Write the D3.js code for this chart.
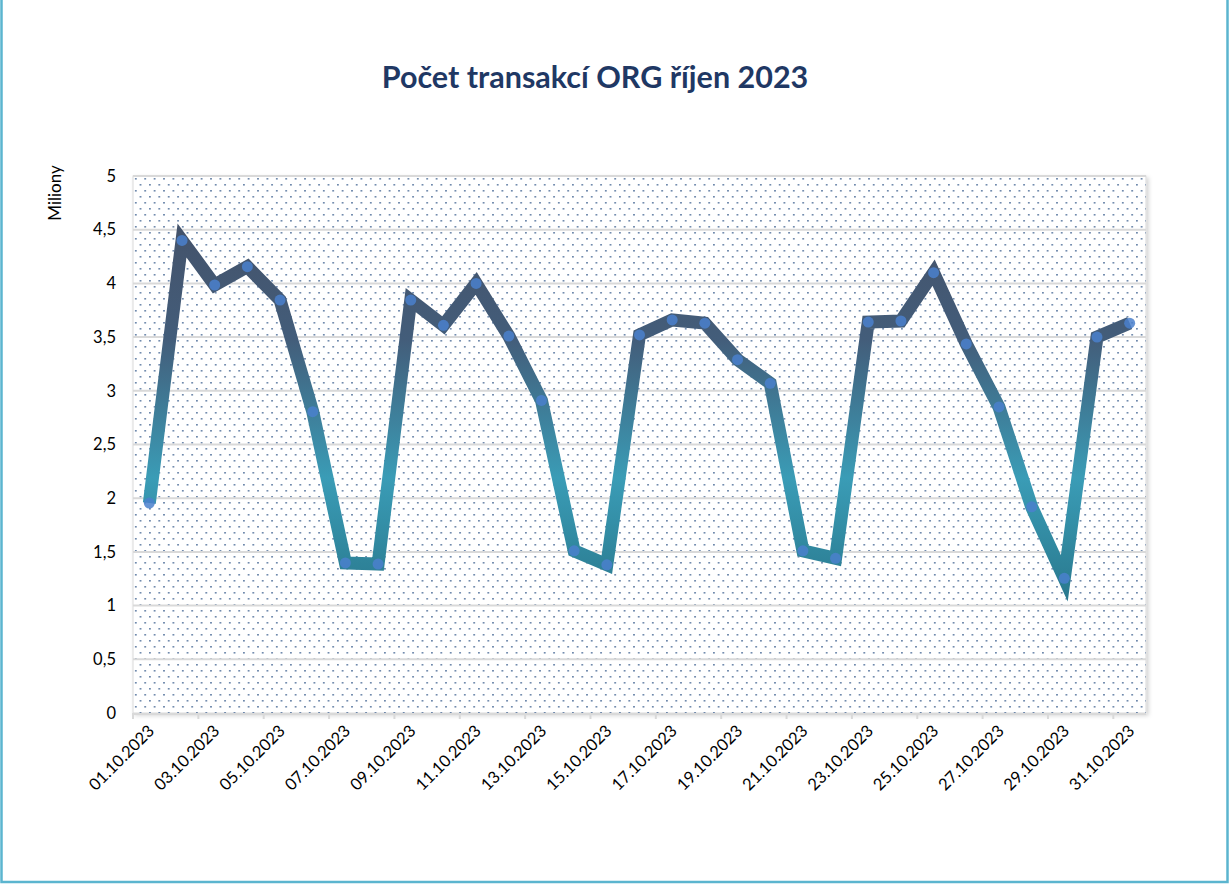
<!DOCTYPE html>
<html><head><meta charset="utf-8">
<script src="https://cdn.jsdelivr.net/npm/d3@7"></script>
<style>body{margin:0;background:#fff}svg{display:block}</style>
</head><body>
<script>
const title = "Počet transakcí ORG říjen 2023";
const yTitle = "Miliony";
const dates = ["01.10.2023","02.10.2023","03.10.2023","04.10.2023","05.10.2023","06.10.2023","07.10.2023","08.10.2023","09.10.2023","10.10.2023","11.10.2023","12.10.2023","13.10.2023","14.10.2023","15.10.2023","16.10.2023","17.10.2023","18.10.2023","19.10.2023","20.10.2023","21.10.2023","22.10.2023","23.10.2023","24.10.2023","25.10.2023","26.10.2023","27.10.2023","28.10.2023","29.10.2023","30.10.2023","31.10.2023"];
const values = [1.955,4.40,3.985,4.156,3.845,2.806,1.397,1.387,3.845,3.61,4.0,3.51,2.91,1.51,1.38,3.52,3.66,3.63,3.29,3.07,1.51,1.44,3.64,3.65,4.10,3.436,2.85,1.92,1.254,3.50,3.63];
const yTicks = [0,0.5,1,1.5,2,2.5,3,3.5,4,4.5,5];

const W=1231,H=884;
const FONT="Lato, 'Open Sans', sans-serif";
const svg=d3.select("body").append("svg").attr("width",W).attr("height",H);
const defs=svg.append("defs");
const L=133,R=1146,T=176,B=713;

// outer frame
svg.append("rect").attr("x",1.5).attr("y",-2).attr("width",1226).attr("height",884)
  .attr("fill","#fff").attr("stroke","#5bb5cf").attr("stroke-width",2.5);

// pattern
const pat=defs.append("pattern").attr("id","dots").attr("patternUnits","userSpaceOnUse")
  .attr("width",9.4).attr("height",12).attr("x",L).attr("y",T);
pat.append("rect").attr("x",2).attr("y",2).attr("width",1.6).attr("height",1.6).attr("fill","#5a78a0");
pat.append("rect").attr("x",6.7).attr("y",8).attr("width",1.6).attr("height",1.6).attr("fill","#5a78a0");

// shadow
const f=defs.append("filter").attr("id","sh").attr("x","-5%").attr("y","-5%").attr("width","110%").attr("height","110%");
f.append("feDropShadow").attr("dx",2).attr("dy",2).attr("stdDeviation",2).attr("flood-color","#000").attr("flood-opacity",0.18);

svg.append("rect").attr("x",L).attr("y",T).attr("width",R-L).attr("height",B-T)
  .attr("fill","#fff").attr("stroke","#d9d9d9").attr("stroke-width",1).attr("filter","url(#sh)");
svg.append("rect").attr("x",L).attr("y",T).attr("width",R-L).attr("height",B-T).attr("fill","url(#dots)");

const x=d3.scaleBand().domain(dates).range([L,R]).padding(0);
const y=d3.scaleLinear().domain([0,5]).range([B,T]);

// gridlines
svg.append("g").selectAll("line").data(yTicks.filter(d=>d>0)).join("line")
  .attr("x1",L).attr("x2",R).attr("y1",d=>y(d)).attr("y2",d=>y(d))
  .attr("stroke","#d9d9d9").attr("stroke-width",2);

// y axis
const yAx=svg.append("g").attr("transform",`translate(${L},0)`)
  .call(d3.axisLeft(y).tickValues(yTicks).tickSize(0).tickPadding(17).tickFormat(d=>String(d).replace(".",",")));
yAx.select(".domain").remove();
yAx.selectAll("text").attr("font-family",FONT).attr("font-size",16.5).attr("fill","#000");

// x axis
svg.append("line").attr("x1",L).attr("x2",R).attr("y1",B+1).attr("y2",B+1).attr("stroke","#d9d9d9").attr("stroke-width",2);
const tickPos=d3.range(0,dates.length+1,2).map(i=>L+i*x.bandwidth());
svg.append("g").selectAll("line").data(tickPos).join("line")
  .attr("x1",d=>d).attr("x2",d=>d).attr("y1",B).attr("y2",B+6).attr("stroke","#d9d9d9").attr("stroke-width",2);
svg.append("g").selectAll("text").data(dates.filter((d,i)=>i%2===0)).join("text")
  .attr("transform",d=>`translate(${x(d)+x.bandwidth()/2+3},${B+16}) rotate(-45)`)
  .attr("text-anchor","end").attr("dominant-baseline","middle")
  .attr("font-family",FONT).attr("font-size",16.5).attr("fill","#000").text(d=>d);

// y title
svg.append("text").attr("transform","translate(61,193) rotate(-90)").attr("text-anchor","middle")
  .attr("font-family",FONT).attr("font-size",17).attr("fill","#000").text(yTitle);

// title
svg.append("text").attr("x",595).attr("y",88).attr("text-anchor","middle")
  .attr("font-family",FONT).attr("font-weight","bold").attr("font-size",30.5)
  .attr("fill","#1f3864").text(title);

// gradient
const g=defs.append("linearGradient").attr("id","lg").attr("gradientUnits","userSpaceOnUse")
  .attr("x1",0).attr("x2",0).attr("y1",y(4.5)).attr("y2",y(1.1));
g.append("stop").attr("offset","0%").attr("stop-color","#44536b");
g.append("stop").attr("offset","30%").attr("stop-color","#435d7a");
g.append("stop").attr("offset","68%").attr("stop-color","#3a9cb6");
g.append("stop").attr("offset","100%").attr("stop-color","#2a7a8f");

const cx=(d,i)=>x(dates[i])+x.bandwidth()/2;
const line=d3.line().x((d,i)=>cx(d,i)).y(d=>y(d));
svg.append("path").datum(values).attr("d",line).attr("fill","none")
  .attr("stroke","url(#lg)").attr("stroke-width",13).attr("stroke-linejoin","miter").attr("stroke-miterlimit",10);

svg.append("g").selectAll("circle").data(values).join("circle")
  .attr("cx",(d,i)=>cx(d,i)).attr("cy",d=>y(d)).attr("r",5.5)
  .attr("fill","#4a80cc").attr("fill-opacity",0.85);
</script>
</body></html>
